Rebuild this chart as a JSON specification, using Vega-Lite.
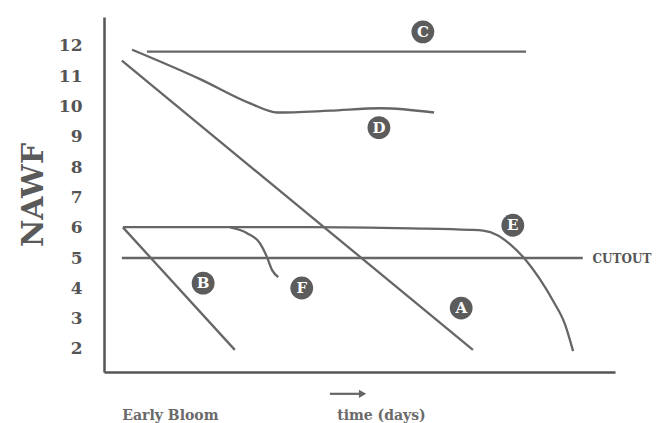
{
  "$schema": "https://vega.github.io/schema/vega-lite/v6.json",
  "width": 511,
  "height": 355,
  "autosize": {"type": "none"},
  "padding": {"left": 104, "top": 17, "right": 47, "bottom": 51},
  "background": "white",
  "config": {"view": {"stroke": null}, "axis": {"labelOverlap": false}, "axisY": {"labelOverlap": false, "labelSeparation": 0}},
  "datasets": {
    "lines": [
      {"series": "A", "t": 3.5, "v": 11.51},
      {"series": "A", "t": 72.2, "v": 1.97},
      {"series": "B", "t": 3.7, "v": 6.01},
      {"series": "B", "t": 25.6, "v": 1.97},
      {"series": "C", "t": 8.4, "v": 11.81},
      {"series": "C", "t": 82.6, "v": 11.81},
      {"series": "D", "t": 5.5, "v": 11.87},
      {"series": "D", "t": 18.8, "v": 10.9},
      {"series": "D", "t": 28.6, "v": 10.1},
      {"series": "D", "t": 33.9, "v": 9.8},
      {"series": "D", "t": 44.2, "v": 9.86},
      {"series": "D", "t": 54.2, "v": 9.94},
      {"series": "D", "t": 64.6, "v": 9.8},
      {"series": "E", "t": 3.7, "v": 6.02},
      {"series": "E", "t": 40.0, "v": 6.02},
      {"series": "E", "t": 60.0, "v": 5.98},
      {"series": "E", "t": 71.6, "v": 5.93},
      {"series": "E", "t": 74.2, "v": 5.9},
      {"series": "E", "t": 76.9, "v": 5.76},
      {"series": "E", "t": 79.5, "v": 5.45},
      {"series": "E", "t": 82.4, "v": 4.96},
      {"series": "E", "t": 85.3, "v": 4.3},
      {"series": "E", "t": 87.9, "v": 3.58},
      {"series": "E", "t": 90.2, "v": 2.82},
      {"series": "E", "t": 91.8, "v": 1.93},
      {"series": "F", "t": 24.7, "v": 6.01},
      {"series": "F", "t": 28.0, "v": 5.82},
      {"series": "F", "t": 30.5, "v": 5.49},
      {"series": "F", "t": 31.9, "v": 5.03},
      {"series": "F", "t": 32.9, "v": 4.6},
      {"series": "F", "t": 34.1, "v": 4.37},
      {"series": "Cutout", "t": 3.5, "v": 5.0},
      {"series": "Cutout", "t": 93.7, "v": 5.0}
    ],
    "labels": [
      {"letter": "C", "t": 62.4, "v": 12.46},
      {"letter": "D", "t": 53.8, "v": 9.3},
      {"letter": "E", "t": 80.0, "v": 6.08},
      {"letter": "A", "t": 69.9, "v": 3.35},
      {"letter": "B", "t": 19.4, "v": 4.17},
      {"letter": "F", "t": 38.7, "v": 4.01}
    ],
    "cutout": [{"text": "CUTOUT", "t": 95.6, "v": 4.97}],
    "arrow": [{"t": 44.2, "t2": 50.0, "v": 0.52, "tip": 50.6}]
  },
  "layer": [
    {
      "data": {"name": "lines"},
      "mark": {"type": "line", "color": "#666666", "strokeWidth": 2.3, "interpolate": "monotone", "clip": false},
      "encoding": {
        "x": {
          "field": "t", "type": "quantitative",
          "scale": {"domain": [0, 100], "nice": false, "zero": false},
          "axis": {
            "title": null, "values": [12.9, 54.2], "grid": false, "ticks": false, "tickSize": 0,
            "labelExpr": "datum.value < 30 ? 'Early Bloom' : 'time  (days)'",
            "labelFont": "DejaVu Serif", "labelFontWeight": "bold", "labelFontSize": 14,
            "labelColor": "#6a6a6a", "labelBaseline": "alphabetic", "labelPadding": 47,
            "labelAlign": "center", "labelOverlap": false,
            "domainColor": "#555555", "domainWidth": 2.5
          }
        },
        "y": {
          "field": "v", "type": "quantitative",
          "scale": {"domain": [1.24, 12.95], "nice": false, "zero": false},
          "axis": {
            "title": "NAWF", "values": [2, 3, 4, 5, 6, 7, 8, 9, 10, 11, 12], "tickCount": 11,
            "grid": false, "ticks": false, "tickSize": 0, "labelOverlap": false,
            "labelFont": "DejaVu Serif", "labelFontWeight": "bold", "labelFontSize": 17,
            "labelColor": "#555555", "labelPadding": 22, "labelBaseline": "middle",
            "titleFont": "DejaVu Serif", "titleFontWeight": "bold", "titleFontSize": 30,
            "titleColor": "#5a5a5a", "titleX": -62, "titleY": 177.5, "titleAngle": -90,
            "titleAlign": "center", "titleBaseline": "alphabetic",
            "domainColor": "#555555", "domainWidth": 2.5
          }
        },
        "detail": {"field": "series", "type": "nominal"},
        "order": {"field": "t", "type": "quantitative"}
      }
    },
    {
      "data": {"name": "labels"},
      "mark": {"type": "circle", "size": 520, "color": "#5c5c5c", "opacity": 1, "clip": false},
      "encoding": {
        "x": {"field": "t", "type": "quantitative"},
        "y": {"field": "v", "type": "quantitative"}
      }
    },
    {
      "data": {"name": "labels"},
      "mark": {"type": "text", "color": "white", "font": "DejaVu Serif", "fontWeight": "bold", "fontSize": 15, "align": "center", "baseline": "middle", "clip": false},
      "encoding": {
        "x": {"field": "t", "type": "quantitative"},
        "y": {"field": "v", "type": "quantitative"},
        "text": {"field": "letter"}
      }
    },
    {
      "data": {"name": "cutout"},
      "mark": {"type": "text", "color": "#555555", "font": "DejaVu Serif", "fontWeight": "bold", "fontSize": 12, "align": "left", "baseline": "middle", "clip": false},
      "encoding": {
        "x": {"field": "t", "type": "quantitative"},
        "y": {"field": "v", "type": "quantitative"},
        "text": {"field": "text"}
      }
    },
    {
      "data": {"name": "arrow"},
      "mark": {"type": "rule", "color": "#666666", "strokeWidth": 2.2, "clip": false},
      "encoding": {
        "x": {"field": "t", "type": "quantitative"},
        "x2": {"field": "t2"},
        "y": {"field": "v", "type": "quantitative"}
      }
    },
    {
      "data": {"name": "arrow"},
      "mark": {"type": "point", "shape": "triangle-right", "filled": true, "size": 70, "color": "#666666", "opacity": 1, "clip": false},
      "encoding": {
        "x": {"field": "tip", "type": "quantitative"},
        "y": {"field": "v", "type": "quantitative"}
      }
    }
  ]
}
